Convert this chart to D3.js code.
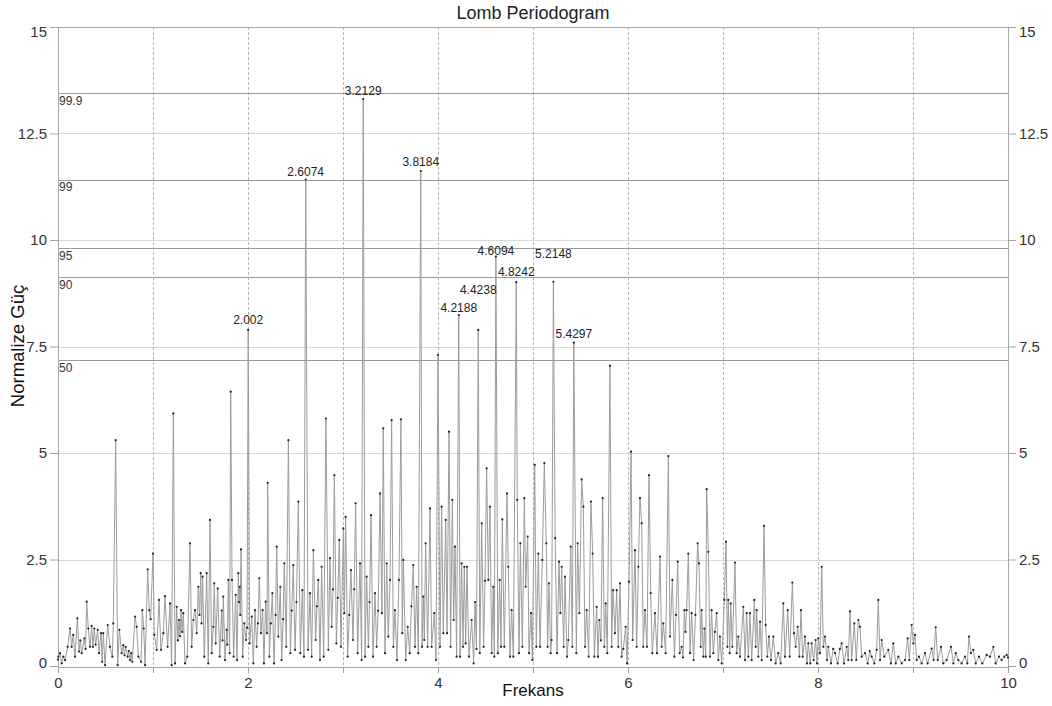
<!DOCTYPE html>
<html><head><meta charset="utf-8">
<script src="https://cdn.jsdelivr.net/npm/d3@7"></script>
<style>
body{margin:0;background:#fff}
svg{display:block}
text{font-family:"Liberation Sans",Arial,sans-serif}
</style>
</head><body>
<svg id="chart" width="1052" height="706"></svg>
<script>
// Frequency (x) and normalized power (y) of the periodogram
const freq = [
0.000,0.004,0.021,0.039,0.056,0.074,0.102,0.126,0.144,0.161,
0.179,0.204,0.221,0.235,0.249,0.277,0.290,0.302,0.319,0.337,
0.354,0.368,0.382,0.396,0.418,0.432,0.453,0.465,0.477,0.495,
0.523,0.547,0.572,0.582,0.607,0.628,0.646,0.670,0.688,0.700,
0.712,0.733,0.745,0.758,0.770,0.782,0.811,0.828,0.846,0.874,
0.888,0.902,0.916,0.944,0.961,0.975,1.000,1.014,1.039,1.063,
1.084,1.109,1.126,1.154,1.179,1.196,1.214,1.232,1.249,1.262,
1.274,1.285,1.295,1.307,1.319,1.337,1.361,1.389,1.407,1.425,
1.442,1.460,1.477,1.490,1.502,1.511,1.522,1.540,
1.565,1.582,1.600,1.618,1.635,1.645,1.660,1.681,1.702,1.723,
1.732,1.740,1.758,1.775,1.782,1.793,1.807,1.818,1.832,1.849,
1.870,1.884,1.898,1.905,1.912,1.918,1.926,1.944,1.961,1.979,
1.990,2.002,2.017,2.039,2.056,2.074,2.091,2.105,2.119,2.137,
2.154,2.168,2.186,2.200,2.207,2.225,2.240,2.256,2.274,2.290,
2.302,2.319,2.340,2.354,2.370,2.382,2.403,2.425,2.446,2.460,
2.477,2.495,2.510,2.530,2.551,2.572,2.589,2.6074,2.632,2.653,
2.670,2.688,2.712,2.725,2.740,2.758,2.775,2.797,2.820,2.846,
2.863,2.881,2.895,2.909,2.930,2.945,2.961,2.979,3.004,3.014,
3.028,3.049,3.066,3.084,3.105,3.118,3.133,3.154,3.179,3.196,
3.2129,3.232,3.249,3.267,3.280,3.295,3.316,3.337,3.354,3.370,
3.390,3.410,3.424,3.442,3.460,3.477,3.495,3.512,3.530,3.547,
3.568,3.589,3.610,3.624,3.635,3.660,3.681,3.702,3.720,3.740,
3.758,3.775,3.793,3.8184,3.832,3.846,3.856,3.870,3.891,3.916,
3.933,3.961,3.979,4.000,4.021,4.038,4.056,4.081,4.095,4.116,
4.133,4.151,4.165,4.179,4.196,4.2188,4.232,4.249,4.263,4.277,
4.291,4.305,4.326,4.354,4.375,4.390,4.405,4.4238,4.440,4.460,
4.480,4.495,4.512,4.530,4.547,4.565,4.582,4.593,4.6094,4.630,
4.649,4.663,4.677,4.698,4.726,4.740,4.758,4.775,4.793,4.8242,
4.834,4.853,4.867,4.888,4.909,4.923,4.944,4.958,4.979,4.993,
5.018,5.035,5.056,5.074,5.098,5.119,5.140,5.154,5.168,5.186,
5.196,5.2148,5.233,5.253,5.274,5.288,5.302,5.323,5.337,5.358,
5.372,5.397,5.414,5.4297,5.456,5.470,5.488,5.512,5.530,5.547,
5.565,5.586,5.610,5.628,5.646,5.670,5.684,5.698,5.715,5.733,
5.751,5.765,5.782,5.810,5.828,5.842,5.863,5.881,5.898,5.916,
5.933,5.951,5.975,5.990,6.011,6.032,6.049,6.074,6.091,6.109,
6.126,6.144,6.161,6.179,6.200,6.221,6.239,6.256,6.284,6.305,
6.337,6.354,6.372,6.396,6.425,6.442,6.467,6.488,6.505,6.523,
6.544,6.565,6.580,6.593,6.605,6.617,6.635,6.653,6.670,6.691,
6.710,6.733,6.747,6.765,6.775,6.793,6.804,6.818,6.828,6.846,
6.863,6.880,6.898,6.915,6.933,6.951,6.968,6.986,7.014,7.032,
7.046,7.056,7.070,7.081,7.098,7.126,7.144,7.161,7.179,7.214,
7.232,7.249,7.267,7.284,7.302,7.330,7.344,7.354,7.372,7.390,
7.407,7.432,7.449,7.467,7.484,7.505,7.530,7.554,7.582,7.607,
7.635,7.653,7.681,7.702,7.730,7.747,7.765,7.786,7.804,7.821,
7.839,7.863,7.884,7.898,7.919,7.933,7.954,7.975,7.989,8.003,
8.021,8.039,8.056,8.074,8.095,8.109,8.137,8.160,8.179,8.207,
8.230,8.249,8.274,8.302,8.319,8.337,8.354,8.382,8.403,8.425,
8.442,8.460,8.495,8.523,8.545,8.565,8.593,8.618,8.635,8.653,
8.670,8.698,8.740,8.768,8.793,8.818,8.846,8.881,8.916,8.944,
8.961,8.986,9.004,9.021,9.039,9.063,9.091,9.126,9.154,9.196,
9.217,9.239,9.260,9.295,9.319,9.354,9.400,9.425,9.450,9.477,
9.512,9.547,9.572,9.589,9.610,9.635,9.660,9.695,9.730,9.775,
9.811,9.846,9.870,9.905,9.933,9.961,9.986,10.000
];
const power = [
0.15,0.22,0.30,0.06,0.22,0.14,0.45,0.88,0.45,0.73,
0.22,1.12,0.34,0.60,0.30,0.65,0.40,1.51,0.88,0.45,
0.94,0.45,0.88,0.50,0.85,0.30,0.77,0.10,0.77,0.02,
0.96,0.45,0.22,1.00,5.30,0.02,0.85,0.30,0.49,0.25,
0.45,0.22,0.35,0.14,0.30,0.10,1.16,0.92,0.22,0.10,
1.31,0.88,0.02,2.27,1.31,1.10,2.64,0.73,0.38,1.55,
0.38,0.77,1.64,0.45,1.47,0.02,5.93,0.06,1.39,0.60,
1.08,0.70,1.31,0.80,1.24,0.06,0.22,2.88,0.45,1.08,
1.31,0.77,1.86,1.20,2.18,1.00,2.10,0.22,
2.18,0.06,3.43,0.30,0.92,1.94,0.53,1.82,0.22,1.30,
0.60,1.63,0.14,0.85,0.50,2.02,0.30,6.44,2.02,0.22,
1.67,0.14,2.18,1.50,1.86,1.20,2.74,0.22,1.00,0.61,
0.90,7.89,0.53,1.16,0.06,1.31,0.45,1.00,2.06,0.77,
1.31,0.06,1.51,0.77,4.30,0.22,1.00,1.71,0.06,1.20,
2.80,0.69,1.86,0.14,1.10,2.41,0.45,5.30,0.30,1.30,
2.37,0.38,1.50,3.86,0.30,1.78,0.22,11.42,0.38,1.71,
0.22,2.72,0.61,1.40,2.02,0.14,2.33,0.22,5.81,0.38,
2.53,0.92,1.80,4.48,0.53,1.60,2.96,0.45,3.23,1.24,
3.50,0.22,1.20,2.25,0.61,1.80,3.82,0.30,2.41,0.14,
13.31,0.22,2.10,0.45,1.50,3.54,0.22,1.71,0.45,1.30,
4.05,1.24,5.58,0.30,2.41,0.69,2.02,5.77,0.45,1.31,
0.14,2.02,5.79,0.77,2.49,0.14,0.92,0.30,1.40,2.37,
0.45,1.86,0.30,11.62,0.45,1.63,0.61,2.88,0.45,3.70,
0.45,1.24,0.14,7.30,0.45,3.74,0.77,3.43,0.77,5.50,
0.45,3.90,1.08,2.80,0.22,8.24,0.22,2.41,0.45,2.33,
0.53,2.33,0.22,1.08,0.06,1.50,0.40,7.89,0.30,3.35,
0.45,2.00,4.64,2.02,3.74,0.30,1.86,0.22,9.61,0.30,
2.02,0.45,3.44,0.45,4.05,2.33,0.22,1.31,0.22,9.01,
3.90,0.30,2.88,0.45,3.94,1.86,3.04,0.30,1.24,0.14,
4.72,0.45,2.64,0.45,2.49,4.76,2.88,0.45,1.94,0.30,
0.61,9.02,3.00,0.30,2.45,1.24,2.33,0.45,2.10,0.22,
0.61,2.80,0.45,7.59,0.30,2.88,1.24,4.38,3.74,0.45,
1.31,0.22,3.86,2.64,0.22,1.39,0.22,1.08,0.60,3.94,
0.45,1.47,0.30,7.05,0.45,1.78,0.77,1.78,0.45,1.94,
0.22,0.40,0.92,0.06,1.98,5.03,0.61,2.72,0.45,2.33,
3.94,3.35,0.45,1.31,0.45,4.48,1.71,0.30,1.24,0.30,
2.57,0.45,1.00,0.30,4.93,0.69,2.02,0.22,1.20,2.45,
0.30,0.45,0.20,1.31,0.80,1.31,2.64,0.30,1.24,0.14,
1.20,2.88,2.41,0.45,1.31,0.22,0.88,0.22,4.15,2.68,
0.22,1.31,0.30,0.80,1.24,0.14,0.69,0.06,1.55,2.92,
0.45,1.55,0.30,1.47,0.45,2.43,0.30,0.69,0.22,1.39,
0.14,1.24,0.22,1.24,0.14,1.55,0.45,1.31,0.22,1.04,
0.14,3.29,0.96,0.22,0.69,0.14,0.69,0.06,0.30,0.06,
1.47,0.22,1.31,0.22,1.96,0.77,0.45,0.92,0.22,1.31,
0.22,0.69,0.06,0.53,0.06,0.53,0.14,0.61,0.06,0.65,
0.30,2.33,0.45,0.69,0.14,0.45,0.06,0.40,0.30,0.06,
0.40,0.53,0.06,0.45,0.14,1.28,0.14,1.00,0.14,1.08,
0.92,0.22,0.30,0.06,0.35,0.22,0.06,0.38,1.55,0.14,
0.61,0.22,0.38,0.06,0.53,0.06,0.22,0.06,0.14,0.65,
0.14,0.96,0.53,0.73,0.14,0.22,0.06,0.30,0.06,0.41,
0.14,0.91,0.14,0.45,0.06,0.14,0.45,0.06,0.30,0.14,
0.06,0.22,0.06,0.69,0.30,0.38,0.06,0.22,0.06,0.26,
0.22,0.45,0.06,0.22,0.14,0.22,0.26,0.20
];

// Labelled peaks
const peakFreq = [2.002, 2.6074, 3.2129, 3.8184, 4.2188, 4.4238, 4.6094, 4.8242, 5.2148, 5.4297];
const peakText = ["2.002","2.6074","3.2129","3.8184","4.2188","4.4238","4.6094","4.8242","5.2148","5.4297"];
const peakLabelPower = [8.12, 11.6, 13.5, 11.83, 8.41, 8.83, 9.75, 9.26, 9.67, 7.79];

// Significance levels (%)
const sigPower = [13.45, 11.41, 9.81, 9.12, 7.18];
const sigText = ["99.9", "99", "95", "90", "50"];

// Axis ticks
const yTicks = [0, 2.5, 5, 7.5, 10, 12.5, 15];
const yTickText = ["0", "2.5", "5", "7.5", "10", "12.5", "15"];
const xTicks = [0, 1, 2, 3, 4, 5, 6, 7, 8, 9, 10];
const xTickText = ["0", "", "2", "", "4", "", "6", "", "8", "", "10"];

const titleText = "Lomb Periodogram";
const xTitle = "Frekans";
const yTitle = "Normalize Güç";

const L = 58, R = 1008, T = 27, B = 666;
const svg = d3.select("#chart");
const x = d3.scaleLinear().domain([0, 10]).range([L, R]);
const y = d3.scaleLinear().domain([0, 15]).range([B, T]);

// horizontal light grid
svg.append("g").selectAll("line").data(yTicks.filter(v => v > 0 && v < 15)).join("line")
  .attr("x1", L).attr("x2", R)
  .attr("y1", d => Math.round(y(d)) + 0.5).attr("y2", d => Math.round(y(d)) + 0.5)
  .attr("stroke", "#d8d8d8").attr("stroke-width", 1);

// vertical dashed grid
svg.append("g").selectAll("line").data(xTicks.filter(v => v > 0 && v < 10)).join("line")
  .attr("x1", d => Math.round(x(d)) + 0.5).attr("x2", d => Math.round(x(d)) + 0.5)
  .attr("y1", T).attr("y2", B)
  .attr("stroke", "#b8b8b8").attr("stroke-width", 1).attr("stroke-dasharray", "3,2");

// significance lines
svg.append("g").selectAll("line").data(sigPower).join("line")
  .attr("x1", L).attr("x2", R)
  .attr("y1", d => Math.round(y(d)) + 0.5).attr("y2", d => Math.round(y(d)) + 0.5)
  .attr("stroke", "#9a9a9a").attr("stroke-width", 1);
svg.append("g").selectAll("text").data(sigPower).join("text")
  .attr("x", L + 1).attr("y", d => y(d) + 11.5)
  .attr("font-size", 12).attr("fill", "#333")
  .text((d, i) => sigText[i]);

// frame
svg.append("rect").attr("x", L + 0.5).attr("y", T + 0.5)
  .attr("width", R - L).attr("height", B - T + 1)
  .attr("fill", "none").attr("stroke", "#a8a8a8").attr("stroke-width", 1);

// series
const pts = freq.map((f, i) => [f, power[i]]);
svg.append("path").datum(pts)
  .attr("fill", "none").attr("stroke", "#9c9c9c").attr("stroke-width", 1)
  .attr("d", d3.line().x(d => x(d[0])).y(d => y(d[1])));
svg.append("g").selectAll("circle").data(pts).join("circle")
  .attr("cx", d => x(d[0])).attr("cy", d => y(d[1])).attr("r", 1.1)
  .attr("fill", "#222");

// peak labels
svg.append("g").selectAll("text").data(peakFreq).join("text")
  .attr("x", d => x(d)).attr("y", (d, i) => y(peakLabelPower[i]))
  .attr("dy", "0.35em").attr("text-anchor", "middle")
  .attr("font-size", 12).attr("fill", "#222")
  .text((d, i) => peakText[i]);

// axes
function styleAxis(g) {
  g.select(".domain").remove();
  g.selectAll(".tick line").attr("stroke", "#a0a0a0");
  g.selectAll(".tick text").attr("fill", "#333").attr("font-size", 15)
    .attr("font-family", "'Liberation Sans', Arial, sans-serif");
}
const yFmt = d => yTickText[yTicks.indexOf(d)];
const gl = svg.append("g").attr("transform", `translate(${L},0)`)
  .call(d3.axisLeft(y).tickValues(yTicks).tickSize(8).tickPadding(3).tickFormat(yFmt));
styleAxis(gl);
const gr = svg.append("g").attr("transform", `translate(${R},0)`)
  .call(d3.axisRight(y).tickValues(yTicks).tickSize(8).tickPadding(3).tickFormat(yFmt));
styleAxis(gr);
[gl, gr].forEach(g => g.selectAll(".tick text")
  .attr("y", d => d === 15 ? 5 : (d === 0 ? -3 : 0)));
const gb = svg.append("g").attr("transform", `translate(0,${B + 1})`)
  .call(d3.axisBottom(x).tickValues(xTicks).tickSize(6).tickPadding(4)
    .tickFormat(d => xTickText[xTicks.indexOf(d)]));
styleAxis(gb);

// titles
svg.append("text").attr("x", 533).attr("y", 19).attr("text-anchor", "middle")
  .attr("font-size", 18).attr("fill", "#222").text(titleText);
svg.append("text").attr("x", 533).attr("y", 696).attr("text-anchor", "middle")
  .attr("font-size", 17).attr("fill", "#111").text(xTitle);
svg.append("text").attr("transform", "translate(24,346) rotate(-90)")
  .attr("text-anchor", "middle").attr("font-size", 18.5).attr("fill", "#111").text(yTitle);
</script>
</body></html>
